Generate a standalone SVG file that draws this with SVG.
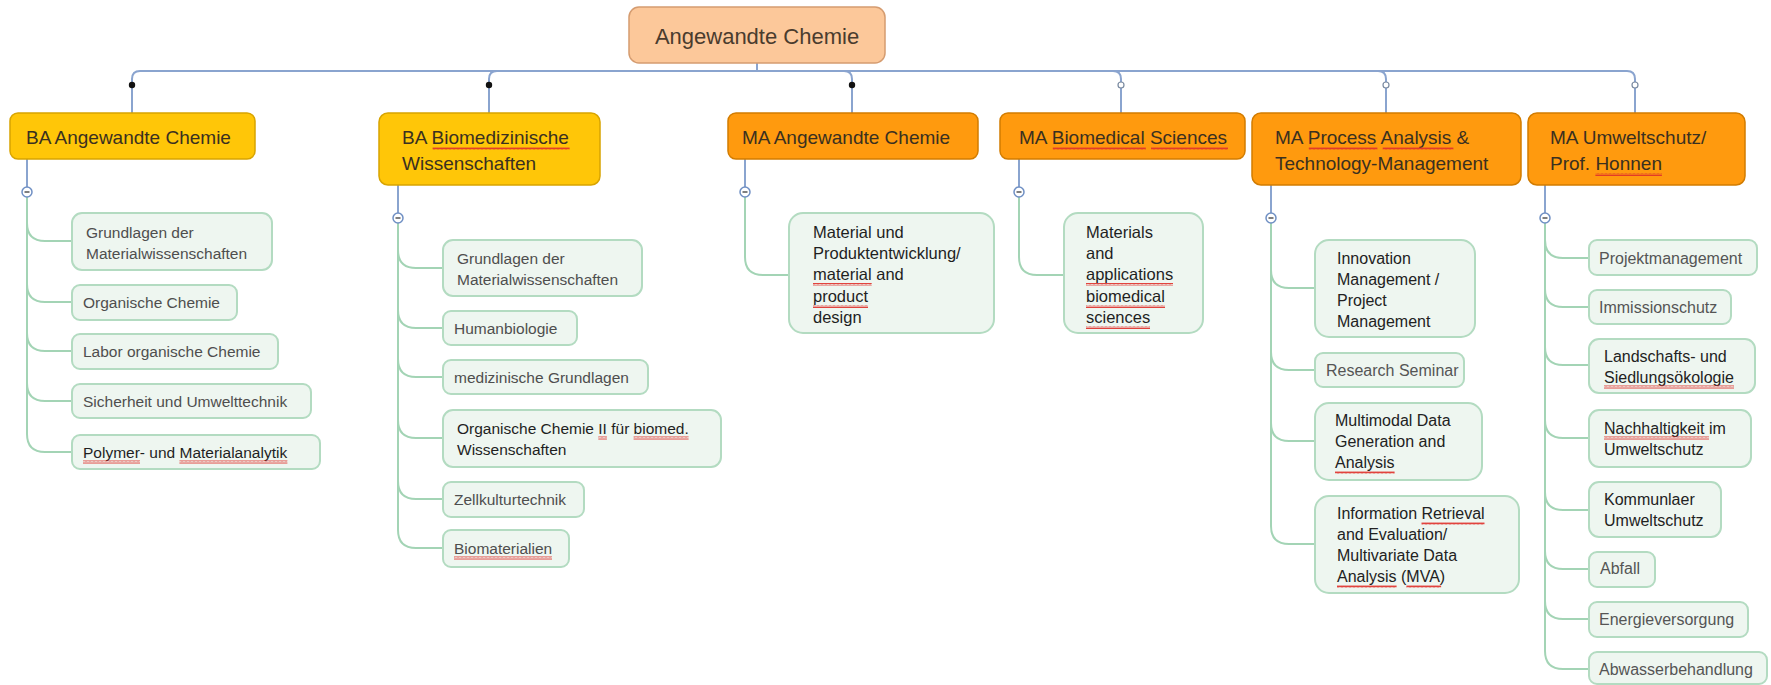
<svg xmlns="http://www.w3.org/2000/svg" width="1771" height="685" viewBox="0 0 1771 685">
<defs>
<pattern id="sq" width="4" height="3" patternUnits="userSpaceOnUse"><path d="M0,2.5 L1,0.5 L2,2.5 L3,0.5 L4,2.5" fill="none" stroke="#e0302a" stroke-width="0.9"/></pattern>
</defs>
<style>
text{font-family:"Liberation Sans",Arial,sans-serif}
.root{fill:#fcc89a;stroke:#d59c70;stroke-width:1.5}
.ba{fill:#ffc608;stroke:#d8a400;stroke-width:1.5}
.ma{fill:#ff9a0e;stroke:#d27c00;stroke-width:1.5}
.ch{fill:#eef6f0;stroke:#b3dbc1;stroke-width:2}
.t0{font-size:22px;fill:#4a3c2e}
.t1{font-size:19px;fill:#3a3020}
.c{font-size:15.5px;fill:#4e4e4e}
.cd{font-size:15.5px;fill:#1f1f1f}
.c3{font-size:16.5px;fill:#1f1f1f}
.c6{font-size:16px;fill:#555555}
.c6d{font-size:16px;fill:#222222}
.bl{fill:none;stroke:#8aa4cf;stroke-width:2}
.gr{fill:none;stroke:#a3d4b5;stroke-width:2}
.tog{fill:#ffffff;stroke:#7090c4;stroke-width:1.5}
.mn{stroke:#555;stroke-width:1.5}
.sq{fill:url(#sq)}
</style>

<g id="connectors">
  <!-- root to level 1 -->
  <path class="bl" d="M757,63 V71 H140 Q132,71 132,79 V113"/>
  <path class="bl" d="M757,63 V71 H497 Q489,71 489,79 V113"/>
  <path class="bl" d="M757,63 V71 H844 Q852,71 852,79 V113"/>
  <path class="bl" d="M757,63 V71 H1113 Q1121,71 1121,79 V113"/>
  <path class="bl" d="M757,63 V71 H1378 Q1386,71 1386,79 V113"/>
  <path class="bl" d="M757,63 V71 H1627 Q1635,71 1635,79 V113"/>
  <circle cx="132" cy="85" r="3.2" fill="#111"/>
  <circle cx="489" cy="85" r="3.2" fill="#111"/>
  <circle cx="852" cy="85" r="3.2" fill="#111"/>
  <circle cx="1121" cy="85" r="3" fill="#fff" stroke="#7a8aa0" stroke-width="1.2"/>
  <circle cx="1386" cy="85" r="3" fill="#fff" stroke="#7a8aa0" stroke-width="1.2"/>
  <circle cx="1635" cy="85" r="3" fill="#fff" stroke="#7a8aa0" stroke-width="1.2"/>
  <!-- level 1 to toggles -->
  <path class="bl" d="M27,159 V187"/>
  <path class="bl" d="M398,185 V213"/>
  <path class="bl" d="M745,159 V187"/>
  <path class="bl" d="M1019,159 V187"/>
  <path class="bl" d="M1271,185 V213"/>
  <path class="bl" d="M1545,185 V213"/>
  <!-- col 1 branches -->
  <path class="gr" d="M27,197 V223 Q27,241 45,241 H72"/>
  <path class="gr" d="M27,197 V284 Q27,302 45,302 H72"/>
  <path class="gr" d="M27,197 V333 Q27,351 45,351 H72"/>
  <path class="gr" d="M27,197 V383 Q27,401 45,401 H72"/>
  <path class="gr" d="M27,197 V434 Q27,452 45,452 H72"/>
  <!-- col 2 branches -->
  <path class="gr" d="M398,223 V250 Q398,268 416,268 H443"/>
  <path class="gr" d="M398,223 V310 Q398,328 416,328 H443"/>
  <path class="gr" d="M398,223 V359 Q398,377 416,377 H443"/>
  <path class="gr" d="M398,223 V420 Q398,438 416,438 H443"/>
  <path class="gr" d="M398,223 V481 Q398,499 416,499 H443"/>
  <path class="gr" d="M398,223 V530 Q398,548 416,548 H443"/>
  <!-- col 3, col 4 -->
  <path class="gr" d="M745,197 V257 Q745,275 763,275 H789"/>
  <path class="gr" d="M1019,197 V257 Q1019,275 1037,275 H1064"/>
  <!-- col 5 -->
  <path class="gr" d="M1271,223 V270 Q1271,288 1289,288 H1315"/>
  <path class="gr" d="M1271,223 V352 Q1271,370 1289,370 H1315"/>
  <path class="gr" d="M1271,223 V423 Q1271,441 1289,441 H1315"/>
  <path class="gr" d="M1271,223 V526 Q1271,544 1289,544 H1315"/>
  <!-- col 6 -->
  <path class="gr" d="M1545,223 V240 Q1545,258 1563,258 H1589"/>
  <path class="gr" d="M1545,223 V289 Q1545,307 1563,307 H1589"/>
  <path class="gr" d="M1545,223 V347 Q1545,365 1563,365 H1589"/>
  <path class="gr" d="M1545,223 V420 Q1545,438 1563,438 H1589"/>
  <path class="gr" d="M1545,223 V492 Q1545,510 1563,510 H1589"/>
  <path class="gr" d="M1545,223 V551 Q1545,569 1563,569 H1589"/>
  <path class="gr" d="M1545,223 V601 Q1545,619 1563,619 H1589"/>
  <path class="gr" d="M1545,223 V651 Q1545,669 1563,669 H1589"/>
  <!-- toggles -->
  <g><circle class="tog" cx="27" cy="192" r="5"/><line class="mn" x1="24.5" y1="192" x2="29.5" y2="192"/></g>
  <g><circle class="tog" cx="398" cy="218" r="5"/><line class="mn" x1="395.5" y1="218" x2="400.5" y2="218"/></g>
  <g><circle class="tog" cx="745" cy="192" r="5"/><line class="mn" x1="742.5" y1="192" x2="747.5" y2="192"/></g>
  <g><circle class="tog" cx="1019" cy="192" r="5"/><line class="mn" x1="1016.5" y1="192" x2="1021.5" y2="192"/></g>
  <g><circle class="tog" cx="1271" cy="218" r="5"/><line class="mn" x1="1268.5" y1="218" x2="1273.5" y2="218"/></g>
  <g><circle class="tog" cx="1545" cy="218" r="5"/><line class="mn" x1="1542.5" y1="218" x2="1547.5" y2="218"/></g>
</g>

<g id="root"><rect class="root" x="629" y="7" width="256" height="56" rx="10"/><text class="t0" x="757" y="44" text-anchor="middle">Angewandte Chemie</text></g>

<g id="ba-ac"><rect class="ba" x="10" y="113" width="245" height="46" rx="8"/><text class="t1" x="26" y="143.5">BA Angewandte Chemie</text></g>
<g id="ba-bio"><rect class="ba" x="379" y="113" width="221" height="72" rx="9"/><text class="t1" x="402" y="143.5">BA Biomedizinische</text><text class="t1" x="402" y="169.5">Wissenschaften</text><rect class="sq" x="432.6" y="147" width="137" height="3"/></g>
<g id="ma-ac"><rect class="ma" x="728" y="113" width="250" height="46" rx="8"/><text class="t1" x="742" y="143.5">MA Angewandte Chemie</text></g>
<g id="ma-bs"><rect class="ma" x="1000" y="113" width="245" height="46" rx="8"/><text class="t1" x="1019" y="143.5">MA Biomedical Sciences</text><rect class="sq" x="1052.8" y="147" width="93" height="3"/><rect class="sq" x="1151" y="147" width="77" height="3"/></g>
<g id="ma-pa"><rect class="ma" x="1252" y="113" width="269" height="72" rx="9"/><text class="t1" x="1275" y="143.5">MA Process Analysis &amp;</text><text class="t1" x="1275" y="169.5">Technology-Management</text><rect class="sq" x="1308.8" y="147" width="68.6" height="3"/><rect class="sq" x="1382.7" y="147" width="70.7" height="3"/></g>
<g id="ma-u"><rect class="ma" x="1528" y="113" width="217" height="72" rx="9"/><text class="t1" x="1550" y="143.5">MA Umweltschutz/</text><text class="t1" x="1550" y="169.5">Prof. Honnen</text><rect class="sq" x="1595.4" y="173" width="66.5" height="3"/></g>

<!-- column 1 -->
<g id="c1-1"><rect class="ch" x="72" y="213" width="200" height="57" rx="10"/><text class="c" x="86" y="237.5">Grundlagen der</text><text class="c" x="86" y="258.5">Materialwissenschaften</text></g>
<g id="c1-2"><rect class="ch" x="72" y="285" width="165" height="35" rx="8"/><text class="c" x="83" y="308">Organische Chemie</text></g>
<g id="c1-3"><rect class="ch" x="72" y="334" width="206" height="35" rx="8"/><text class="c" x="83" y="357">Labor organische Chemie</text></g>
<g id="c1-4"><rect class="ch" x="72" y="384" width="239" height="34" rx="8"/><text class="c" x="83" y="406.5">Sicherheit und Umwelttechnik</text></g>
<g id="c1-5"><rect class="ch" x="72" y="435" width="248" height="34" rx="8"/><text class="cd" x="83" y="457.5">Polymer- und Materialanalytik</text><rect class="sq" x="83" y="460.5" width="57" height="3"/><rect class="sq" x="179.4" y="460.5" width="108" height="3"/></g>

<!-- column 2 -->
<g id="c2-1"><rect class="ch" x="443" y="240" width="199" height="56" rx="10"/><text class="c" x="457" y="263.5">Grundlagen der</text><text class="c" x="457" y="284.5">Materialwissenschaften</text></g>
<g id="c2-2"><rect class="ch" x="443" y="311" width="134" height="34" rx="8"/><text class="c" x="454" y="333.5">Humanbiologie</text></g>
<g id="c2-3"><rect class="ch" x="443" y="360" width="205" height="34" rx="8"/><text class="c" x="454" y="382.5">medizinische Grundlagen</text></g>
<g id="c2-4"><rect class="ch" x="443" y="410" width="278" height="57" rx="10"/><text class="cd" x="457" y="433.5">Organische Chemie II für biomed.</text><text class="cd" x="457" y="454.5">Wissenschaften</text><rect class="sq" x="598.3" y="436.5" width="8.6" height="3"/><rect class="sq" x="633.6" y="436.5" width="55" height="3"/></g>
<g id="c2-5"><rect class="ch" x="443" y="482" width="141" height="35" rx="8"/><text class="c" x="454" y="504.5">Zellkulturtechnik</text></g>
<g id="c2-6"><rect class="ch" x="443" y="530" width="126" height="37" rx="8"/><text class="c" x="454" y="553.5">Biomaterialien</text><rect class="sq" x="454" y="556.5" width="98" height="3"/></g>

<!-- column 3 -->
<g id="c3-1"><rect class="ch" x="789" y="213" width="205" height="120" rx="14"/>
<text class="c3" x="813" y="238">Material und</text><text class="c3" x="813" y="259">Produktentwicklung/</text><text class="c3" x="813" y="280">material and</text><text class="c3" x="813" y="302">product</text><text class="c3" x="813" y="323">design</text>
<rect class="sq" x="813" y="283" width="58.7" height="3"/><rect class="sq" x="813" y="305" width="55" height="3"/></g>

<!-- column 4 -->
<g id="c4-1"><rect class="ch" x="1064" y="213" width="139" height="120" rx="14"/>
<text class="c3" x="1086" y="238">Materials</text><text class="c3" x="1086" y="259">and</text><text class="c3" x="1086" y="280">applications</text><text class="c3" x="1086" y="302">biomedical</text><text class="c3" x="1086" y="323">sciences</text>
<rect class="sq" x="1086" y="283" width="87" height="3"/><rect class="sq" x="1086" y="305" width="79" height="3"/><rect class="sq" x="1086" y="326" width="64" height="3"/></g>

<!-- column 5 -->
<g id="c5-1"><rect class="ch" x="1315" y="240" width="160" height="97" rx="14"/>
<text class="c6d" x="1337" y="264">Innovation</text><text class="c6d" x="1337" y="285">Management /</text><text class="c6d" x="1337" y="306">Project</text><text class="c6d" x="1337" y="327">Management</text></g>
<g id="c5-2"><rect class="ch" x="1315" y="353" width="149" height="34" rx="8"/><text class="c6" x="1326" y="375.5">Research Seminar</text></g>
<g id="c5-3"><rect class="ch" x="1315" y="403" width="167" height="77" rx="14"/>
<text class="c6d" x="1335" y="426">Multimodal Data</text><text class="c6d" x="1335" y="447">Generation and</text><text class="c6d" x="1335" y="468">Analysis</text><rect class="sq" x="1335" y="471" width="59.6" height="3"/></g>
<g id="c5-4"><rect class="ch" x="1315" y="496" width="204" height="97" rx="14"/>
<text class="c6d" x="1337" y="519">Information Retrieval</text><text class="c6d" x="1337" y="540">and Evaluation/</text><text class="c6d" x="1337" y="561">Multivariate Data</text><text class="c6d" x="1337" y="582">Analysis (MVA)</text>
<rect class="sq" x="1421.5" y="522" width="63" height="3"/><rect class="sq" x="1337" y="585" width="59.6" height="3"/><rect class="sq" x="1406.4" y="585" width="34.7" height="3"/></g>

<!-- column 6 -->
<g id="c6-1"><rect class="ch" x="1589" y="240" width="168" height="35" rx="8"/><text class="c6" x="1599" y="263.5">Projektmanagement</text></g>
<g id="c6-2"><rect class="ch" x="1589" y="290" width="142" height="34" rx="8"/><text class="c6" x="1599" y="312.5">Immissionschutz</text></g>
<g id="c6-3"><rect class="ch" x="1589" y="339" width="166" height="54" rx="10"/><text class="c6d" x="1604" y="361.5">Landschafts- und</text><text class="c6d" x="1604" y="382.5">Siedlungsökologie</text><rect class="sq" x="1604" y="385.5" width="130" height="3"/></g>
<g id="c6-4"><rect class="ch" x="1589" y="410" width="162" height="57" rx="10"/><text class="c6d" x="1604" y="433.5">Nachhaltigkeit im</text><text class="c6d" x="1604" y="454.5">Umweltschutz</text><rect class="sq" x="1604" y="436.5" width="105" height="3"/></g>
<g id="c6-5"><rect class="ch" x="1589" y="482" width="132" height="55" rx="10"/><text class="c6d" x="1604" y="504.5">Kommunlaer</text><text class="c6d" x="1604" y="526">Umweltschutz</text></g>
<g id="c6-6"><rect class="ch" x="1589" y="552" width="66" height="35" rx="8"/><text class="c6" x="1600" y="573.5">Abfall</text></g>
<g id="c6-7"><rect class="ch" x="1589" y="602" width="159" height="35" rx="8"/><text class="c6" x="1599" y="624.5">Energieversorgung</text></g>
<g id="c6-8"><rect class="ch" x="1589" y="652" width="178" height="32" rx="8"/><text class="c6" x="1599" y="674.5">Abwasserbehandlung</text></g>
</svg>
